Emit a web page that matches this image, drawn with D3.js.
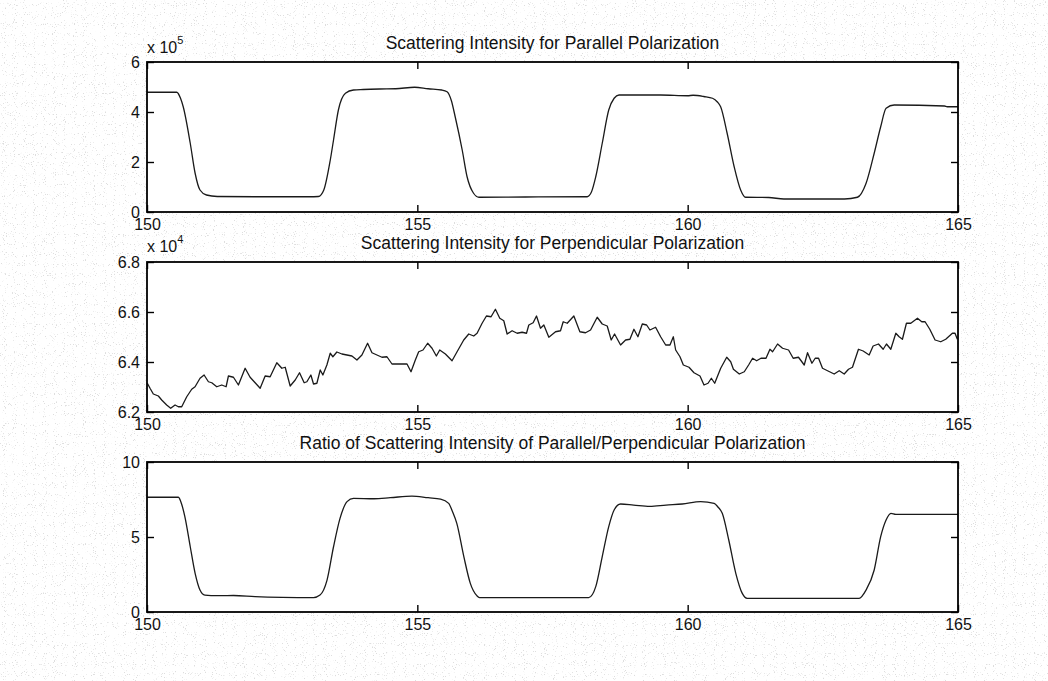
<!DOCTYPE html>
<html>
<head>
<meta charset="utf-8">
<script src="https://cdn.jsdelivr.net/npm/d3@7"></script>
<style>
  html, body { margin: 0; padding: 0; background: #fff; }
  svg { display: block; font-family: "Liberation Sans", Arial, Helvetica, sans-serif; }
</style>
</head>
<body>
<svg id="fig" width="1048" height="681"></svg>
<script>
// ---- shared time axis ----
const timeDomain = [150, 165];
const timeTicks = [150, 155, 160, 165];

// ---- parallel polarization intensity (x 1e5) ----
const parallelTime = [
  150.0, 150.55, 150.62, 150.67, 150.80, 150.89, 150.98, 151.10, 151.3, 152.0,
  153.0, 153.17, 153.27, 153.39, 153.45, 153.54, 153.67, 153.82, 154.0, 154.3,
  154.6, 154.95, 155.2, 155.45, 155.55, 155.63, 155.70, 155.83, 155.92, 156.04,
  156.14, 157.0, 158.14, 158.22, 158.30, 158.42, 158.54, 158.64, 158.73, 159.5,
  160.0, 160.1, 160.3, 160.46, 160.55, 160.61, 160.73, 160.86, 160.98, 161.07,
  161.5, 161.78, 162.9, 163.14, 163.30, 163.45, 163.57, 163.67, 163.82, 164.75,
  164.8, 165.0
];
const parallelIntensity = [
  4.79, 4.79, 4.55, 4.21, 2.75, 1.55, 0.88, 0.68, 0.62, 0.61,
  0.61, 0.62, 0.88, 2.08, 2.88, 4.08, 4.75, 4.88, 4.90, 4.92,
  4.93, 4.99, 4.93, 4.88, 4.81, 4.45, 3.81, 2.48, 1.41, 0.75,
  0.59, 0.60, 0.61, 0.80, 1.41, 2.75, 4.08, 4.55, 4.68, 4.68,
  4.65, 4.67, 4.62, 4.55, 4.40, 4.21, 3.15, 1.81, 0.88, 0.59,
  0.58, 0.52, 0.52, 0.59, 1.15, 2.35, 3.41, 4.15, 4.28, 4.24,
  4.21, 4.21
];
const parallelTicks = [0, 2, 4, 6];

// ---- perpendicular polarization intensity (x 1e4) ----
const perpTime = [
  150.006, 150.056, 150.117, 150.21, 150.272, 150.364, 150.438, 150.519, 150.58, 150.642,
  150.735, 150.827, 150.889, 150.981, 151.056, 151.136, 151.198, 151.29, 151.383, 151.463,
  151.506, 151.599, 151.691, 151.815, 151.907, 152.0, 152.093, 152.185, 152.278, 152.401,
  152.494, 152.556, 152.648, 152.741, 152.821, 152.907, 152.957, 153.031, 153.08, 153.142,
  153.204, 153.253, 153.327, 153.389, 153.438, 153.512, 153.605, 153.698, 153.79, 153.883,
  153.975, 154.08, 154.161, 154.253, 154.346, 154.438, 154.531, 154.654, 154.809, 154.883,
  154.963, 155.025, 155.105, 155.191, 155.272, 155.352, 155.414, 155.519, 155.642, 155.735,
  155.858, 155.951, 156.043, 156.105, 156.198, 156.278, 156.364, 156.444, 156.525, 156.599,
  156.661, 156.753, 156.846, 156.938, 157.019, 157.062, 157.142, 157.204, 157.278, 157.34,
  157.432, 157.556, 157.648, 157.698, 157.772, 157.895, 158.006, 158.111, 158.204, 158.327,
  158.42, 158.512, 158.586, 158.648, 158.759, 158.852, 158.932, 159.006, 159.08, 159.161,
  159.241, 159.302, 159.407, 159.5, 159.593, 159.673, 159.735, 159.778, 159.858, 159.92,
  160.025, 160.117, 160.228, 160.302, 160.377, 160.438, 160.5, 160.611, 160.722, 160.796,
  160.846, 160.955, 161.047, 161.127, 161.201, 161.275, 161.356, 161.449, 161.522, 161.571,
  161.663, 161.755, 161.866, 161.952, 162.05, 162.156, 162.217, 162.298, 162.359, 162.421,
  162.494, 162.587, 162.71, 162.803, 162.895, 162.975, 163.048, 163.159, 163.246, 163.357,
  163.43, 163.529, 163.616, 163.677, 163.757, 163.85, 163.911, 163.972, 164.046, 164.127,
  164.25, 164.33, 164.391, 164.478, 164.576, 164.681, 164.773, 164.896, 164.945, 164.988
];
const perpIntensity = [
  6.315, 6.295, 6.272, 6.264, 6.248, 6.228, 6.215, 6.228, 6.221, 6.221,
  6.261, 6.291, 6.301, 6.335, 6.348, 6.321, 6.317, 6.301, 6.308, 6.301,
  6.344, 6.339, 6.308, 6.375, 6.339, 6.317, 6.295, 6.344, 6.341, 6.397,
  6.375, 6.379, 6.304, 6.328, 6.357, 6.317, 6.321, 6.348, 6.312, 6.315,
  6.368, 6.348, 6.388, 6.435, 6.421, 6.440, 6.432, 6.428, 6.424, 6.408,
  6.428, 6.475, 6.437, 6.428, 6.419, 6.421, 6.392, 6.392, 6.392, 6.361,
  6.408, 6.441, 6.448, 6.475, 6.455, 6.424, 6.448, 6.432, 6.405, 6.441,
  6.488, 6.512, 6.504, 6.515, 6.555, 6.584, 6.581, 6.611, 6.575, 6.565,
  6.512, 6.525, 6.515, 6.519, 6.515, 6.548, 6.557, 6.584, 6.535, 6.548,
  6.499, 6.521, 6.525, 6.561, 6.555, 6.584, 6.521, 6.517, 6.528, 6.579,
  6.552, 6.544, 6.488, 6.512, 6.468, 6.488, 6.491, 6.531, 6.501, 6.552,
  6.548, 6.528, 6.539, 6.501, 6.468, 6.468, 6.501, 6.448, 6.421, 6.388,
  6.379, 6.357, 6.344, 6.308, 6.315, 6.335, 6.315, 6.375, 6.419, 6.401,
  6.371, 6.352, 6.361, 6.388, 6.415, 6.405, 6.415, 6.415, 6.451, 6.441,
  6.472, 6.455, 6.448, 6.415, 6.419, 6.388, 6.437, 6.395, 6.415, 6.415,
  6.375, 6.365, 6.352, 6.365, 6.352, 6.371, 6.379, 6.451, 6.444, 6.428,
  6.464, 6.472, 6.451, 6.472, 6.451, 6.515, 6.501, 6.491, 6.555, 6.555,
  6.575, 6.561, 6.561, 6.531, 6.488, 6.481, 6.491, 6.515, 6.515, 6.491
];
const perpTicks = [6.2, 6.4, 6.6, 6.8];

// ---- ratio parallel / perpendicular ----
const ratioTime = [
  150.0, 150.58, 150.64, 150.70, 150.80, 150.89, 150.98, 151.07, 151.3, 151.6,
  152.0, 152.5, 153.08, 153.20, 153.33, 153.45, 153.57, 153.70, 153.82, 154.2,
  154.5, 154.9, 155.2, 155.43, 155.58, 155.65, 155.73, 155.86, 155.98, 156.10,
  156.15, 158.17, 158.30, 158.42, 158.54, 158.64, 158.76, 159.0, 159.3, 159.6,
  159.9, 160.24, 160.49, 160.56, 160.64, 160.76, 160.89, 161.01, 161.10, 163.17,
  163.30, 163.45, 163.57, 163.67, 163.76, 163.85, 164.5, 165.0
];
const ratioValue = [
  7.65, 7.65, 7.20, 6.36, 4.35, 2.58, 1.47, 1.13, 1.09, 1.10,
  1.03, 0.98, 0.96, 1.13, 2.13, 4.35, 6.24, 7.36, 7.58, 7.55,
  7.62, 7.73, 7.62, 7.53, 7.24, 6.70, 5.91, 3.69, 1.91, 1.09,
  0.96, 0.96, 1.69, 3.69, 5.69, 6.80, 7.20, 7.13, 7.04, 7.13,
  7.20, 7.36, 7.24, 7.00, 6.58, 4.80, 2.58, 1.24, 0.91, 0.91,
  1.47, 2.80, 5.02, 6.13, 6.58, 6.51, 6.51, 6.51
];
const ratioTicks = [0, 5, 10];

const titles = [
  "Scattering Intensity for Parallel Polarization",
  "Scattering Intensity for Perpendicular Polarization",
  "Ratio of Scattering Intensity of Parallel/Perpendicular Polarization"
];

// ---- figure layout ----
const W = 1048, H = 681;
const axLeft = 147, axRight = 958, axHeight = 150;
const axTops = [62, 262, 462];
const tickLen = 7;

const svg = d3.select("#fig");

// scanned-paper grain behind the axes
const defs = svg.append("defs");
const grain = defs.append("filter").attr("id", "grain")
  .attr("x", 0).attr("y", 0).attr("width", "100%").attr("height", "100%");
grain.append("feTurbulence").attr("type", "fractalNoise")
  .attr("baseFrequency", 0.9).attr("numOctaves", 1).attr("seed", 7).attr("result", "n");
grain.append("feColorMatrix").attr("in", "n").attr("type", "matrix")
  .attr("values", "0 0 0 0 0.55  0 0 0 0 0.55  0 0 0 0 0.55  12 0 0 0 -7.6");

svg.append("rect").attr("width", W).attr("height", H).attr("fill", "#fff");
svg.append("rect").attr("width", W).attr("height", H).attr("filter", "url(#grain)").attr("opacity", 0.55);

const x = d3.scaleLinear().domain(timeDomain).range([axLeft, axRight]);

const panels = [
  { times: parallelTime, values: parallelIntensity, ticks: parallelTicks,
    fmt: d3.format("d"), exponent: "5", curve: d3.curveMonotoneX },
  { times: perpTime, values: perpIntensity, ticks: perpTicks,
    fmt: d3.format(".1f"), exponent: "4", curve: d3.curveLinear },
  { times: ratioTime, values: ratioValue, ticks: ratioTicks,
    fmt: d3.format("d"), exponent: null, curve: d3.curveMonotoneX }
];

panels.forEach((p, i) => {
  const top = axTops[i], bottom = top + axHeight;
  const y = d3.scaleLinear()
    .domain([p.ticks[0], p.ticks[p.ticks.length - 1]])
    .range([bottom, top]);

  const g = svg.append("g");

  // white plotting area
  g.append("rect")
    .attr("x", axLeft).attr("y", top)
    .attr("width", axRight - axLeft).attr("height", axHeight)
    .attr("fill", "#fff");

  // data trace
  const line = d3.line()
    .x((d, k) => x(p.times[k]))
    .y(d => y(d))
    .curve(p.curve);
  g.append("path")
    .attr("d", line(p.values))
    .attr("fill", "none")
    .attr("stroke", "#1a1a1a")
    .attr("stroke-width", 1.3)
    .attr("stroke-linejoin", "round");

  const styleAxis = sel => {
    sel.select(".domain").remove();
    sel.selectAll(".tick line").attr("stroke", "#000").attr("stroke-width", 1.4);
    sel.attr("font-family", null).attr("font-size", 16);
    sel.selectAll("text").attr("fill", "#111");
  };

  g.append("g").attr("transform", `translate(0,${bottom})`)
    .call(d3.axisBottom(x).tickValues(timeTicks).tickFormat(d3.format("d"))
      .tickSize(-tickLen).tickSizeOuter(0).tickPadding(7))
    .call(styleAxis);
  g.append("g").attr("transform", `translate(0,${top})`)
    .call(d3.axisTop(x).tickValues(timeTicks).tickFormat("")
      .tickSize(-tickLen).tickSizeOuter(0))
    .call(styleAxis);
  g.append("g").attr("transform", `translate(${axLeft},0)`)
    .call(d3.axisLeft(y).tickValues(p.ticks).tickFormat(p.fmt)
      .tickSize(-tickLen).tickSizeOuter(0).tickPadding(7))
    .call(styleAxis);
  g.append("g").attr("transform", `translate(${axRight},0)`)
    .call(d3.axisRight(y).tickValues(p.ticks).tickFormat("")
      .tickSize(-tickLen).tickSizeOuter(0))
    .call(styleAxis);

  // axes box
  g.append("rect")
    .attr("x", axLeft).attr("y", top)
    .attr("width", axRight - axLeft).attr("height", axHeight)
    .attr("fill", "none").attr("stroke", "#000").attr("stroke-width", 1.8);

  // title
  g.append("text")
    .attr("x", (axLeft + axRight) / 2).attr("y", top - 13)
    .attr("text-anchor", "middle")
    .attr("font-size", 17.5).attr("fill", "#111")
    .text(titles[i]);

  // axis multiplier
  if (p.exponent) {
    const m = g.append("text")
      .attr("x", axLeft).attr("y", top - (i === 0 ? 9 : 10))
      .attr("font-size", 16).attr("fill", "#111");
    m.append("tspan").text("x 10");
    m.append("tspan").attr("dy", -9).attr("font-size", 11).text(p.exponent);
  }
});
</script>
</body>
</html>
